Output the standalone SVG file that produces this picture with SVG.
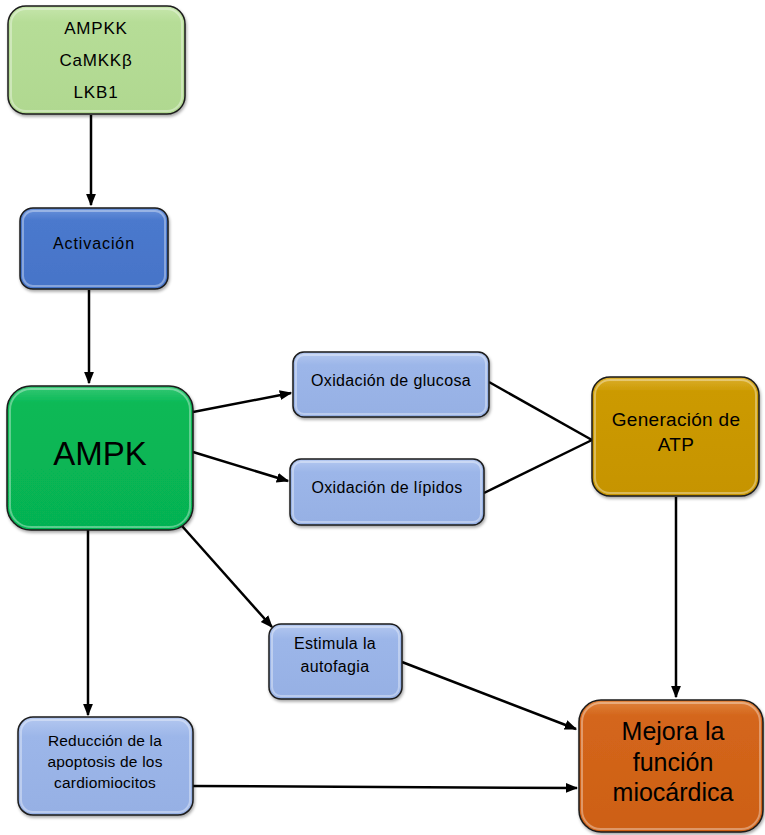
<svg xmlns="http://www.w3.org/2000/svg" width="765" height="835" viewBox="0 0 765 835">
  <defs>
    <marker id="arrow" viewBox="0 0 10 10" refX="9" refY="5" markerWidth="5" markerHeight="5" orient="auto-start-reverse" markerUnits="strokeWidth">
      <path d="M0,1 L10,5 L0,9 z" fill="#000"/>
    </marker>
    <linearGradient id="gLight" x1="0" y1="0" x2="0" y2="1">
      <stop offset="0" stop-color="#c6e6ac"/><stop offset="0.15" stop-color="#b6dd97"/><stop offset="1" stop-color="#b0d890"/>
    </linearGradient>
    <linearGradient id="gBlue" x1="0" y1="0" x2="0" y2="1">
      <stop offset="0" stop-color="#6a93db"/><stop offset="0.15" stop-color="#4b79cd"/><stop offset="1" stop-color="#4674c8"/>
    </linearGradient>
    <linearGradient id="gGreen" x1="0" y1="0" x2="0" y2="1">
      <stop offset="0" stop-color="#38c875"/><stop offset="0.12" stop-color="#08b956"/><stop offset="1" stop-color="#06b252"/>
    </linearGradient>
    <linearGradient id="gPale" x1="0" y1="0" x2="0" y2="1">
      <stop offset="0" stop-color="#b4c8f0"/><stop offset="0.2" stop-color="#9cb6e9"/><stop offset="1" stop-color="#96b0e4"/>
    </linearGradient>
    <linearGradient id="gGold" x1="0" y1="0" x2="0" y2="1">
      <stop offset="0" stop-color="#dcb030"/><stop offset="0.12" stop-color="#cc9a02"/><stop offset="1" stop-color="#c69400"/>
    </linearGradient>
    <linearGradient id="gOrange" x1="0" y1="0" x2="0" y2="1">
      <stop offset="0" stop-color="#e0843e"/><stop offset="0.12" stop-color="#d4661b"/><stop offset="1" stop-color="#cd6016"/>
    </linearGradient>
    <filter id="shadow" x="-10%" y="-10%" width="120%" height="125%">
      <feDropShadow dx="1" dy="2" stdDeviation="1.5" flood-color="#000" flood-opacity="0.35"/>
    </filter>
  </defs>
  <style>
    .box { stroke: #1a1a1a; stroke-width: 1.5; filter: url(#shadow); }
    .rim { fill: none; stroke: #ffffff; stroke-opacity: 0.35; stroke-width: 2; }
    .edge { fill: none; stroke: #000; stroke-width: 2.5; }
    text { font-family: "Liberation Sans", Arial, sans-serif; fill: #000; text-anchor: middle; }
    .sm { font-size: 16px; letter-spacing: 0.35px; }
    .md { font-size: 15.5px; letter-spacing: 0.2px; }
    .kin { font-size: 17px; letter-spacing: 0.8px; }
    .atp { font-size: 19px; letter-spacing: 0.3px; }
    .big { font-size: 25px; }
  </style>

  <rect width="765" height="835" fill="#fff"/>

  <!-- connectors -->
  <g id="connectors">
    <line class="edge" x1="91" y1="115" x2="91" y2="205" marker-end="url(#arrow)"/>
    <line class="edge" x1="89" y1="290" x2="89" y2="383" marker-end="url(#arrow)"/>
    <line class="edge" x1="193" y1="412" x2="291" y2="393" marker-end="url(#arrow)"/>
    <line class="edge" x1="193" y1="452" x2="288" y2="481" marker-end="url(#arrow)"/>
    <line class="edge" x1="489" y1="382" x2="592" y2="440"/>
    <line class="edge" x1="484" y1="493" x2="592" y2="440"/>
    <line class="edge" x1="676" y1="497" x2="676" y2="697" marker-end="url(#arrow)"/>
    <line class="edge" x1="182" y1="526" x2="272" y2="627" marker-end="url(#arrow)"/>
    <line class="edge" x1="88" y1="530" x2="88" y2="715" marker-end="url(#arrow)"/>
    <line class="edge" x1="402" y1="662" x2="576" y2="729" marker-end="url(#arrow)"/>
    <line class="edge" x1="192" y1="786" x2="577" y2="788" marker-end="url(#arrow)"/>
  </g>

  <!-- upstream kinases -->
  <g id="kinases">
    <rect class="box" x="8" y="6" width="177" height="108" rx="18" fill="url(#gLight)"/>
    <rect class="rim" x="11" y="9" width="171" height="102" rx="15"/>
    <text class="kin" x="96" y="34">AMPKK</text>
    <text class="kin" x="96" y="66">CaMKKβ</text>
    <text class="kin" x="96" y="98">LKB1</text>
  </g>

  <g id="activacion">
    <rect class="box" x="20" y="208" width="148" height="81" rx="13" fill="url(#gBlue)"/>
    <rect class="rim" x="23" y="211" width="142" height="75" rx="10"/>
    <text class="sm" x="94" y="249" style="letter-spacing:0.9px">Activación</text>
  </g>

  <g id="ampk">
    <rect class="box" x="7" y="386" width="186" height="144" rx="24" fill="url(#gGreen)"/>
    <rect class="rim" x="10" y="389" width="180" height="138" rx="21"/>
    <text x="100" y="465" style="font-size:33px">AMPK</text>
  </g>

  <g id="ox-glucosa">
    <rect class="box" x="293" y="352" width="196" height="65" rx="11" fill="url(#gPale)"/>
    <rect class="rim" x="296" y="355" width="190" height="59" rx="8"/>
    <text class="sm" x="391" y="386">Oxidación de glucosa</text>
  </g>

  <g id="ox-lipidos">
    <rect class="box" x="290" y="459" width="194" height="66" rx="11" fill="url(#gPale)"/>
    <rect class="rim" x="293" y="462" width="188" height="60" rx="8"/>
    <text class="sm" x="387" y="493">Oxidación de lípidos</text>
  </g>

  <g id="atp">
    <rect class="box" x="592" y="377" width="167" height="119" rx="18" fill="url(#gGold)"/>
    <rect class="rim" x="595" y="380" width="161" height="113" rx="15"/>
    <text class="atp" x="676" y="426">Generación de</text>
    <text class="atp" x="676" y="451">ATP</text>
  </g>

  <g id="autofagia">
    <rect class="box" x="269" y="624" width="133" height="75" rx="12" fill="url(#gPale)"/>
    <rect class="rim" x="272" y="627" width="127" height="69" rx="9"/>
    <text class="sm" x="335" y="649">Estimula la</text>
    <text class="sm" x="335" y="672">autofagia</text>
  </g>

  <g id="apoptosis">
    <rect class="box" x="18" y="717" width="175" height="98" rx="15" fill="url(#gPale)"/>
    <rect class="rim" x="21" y="720" width="169" height="92" rx="12"/>
    <text class="md" x="105" y="746">Reducción de la</text>
    <text class="md" x="105" y="767">apoptosis de los</text>
    <text class="md" x="105" y="788">cardiomiocitos</text>
  </g>

  <g id="funcion">
    <rect class="box" x="579" y="700" width="184" height="132" rx="22" fill="url(#gOrange)"/>
    <rect class="rim" x="582" y="703" width="178" height="126" rx="19"/>
    <text class="big" x="673" y="740">Mejora la</text>
    <text class="big" x="673" y="770.5">función</text>
    <text class="big" x="673" y="801">miocárdica</text>
  </g>
</svg>
